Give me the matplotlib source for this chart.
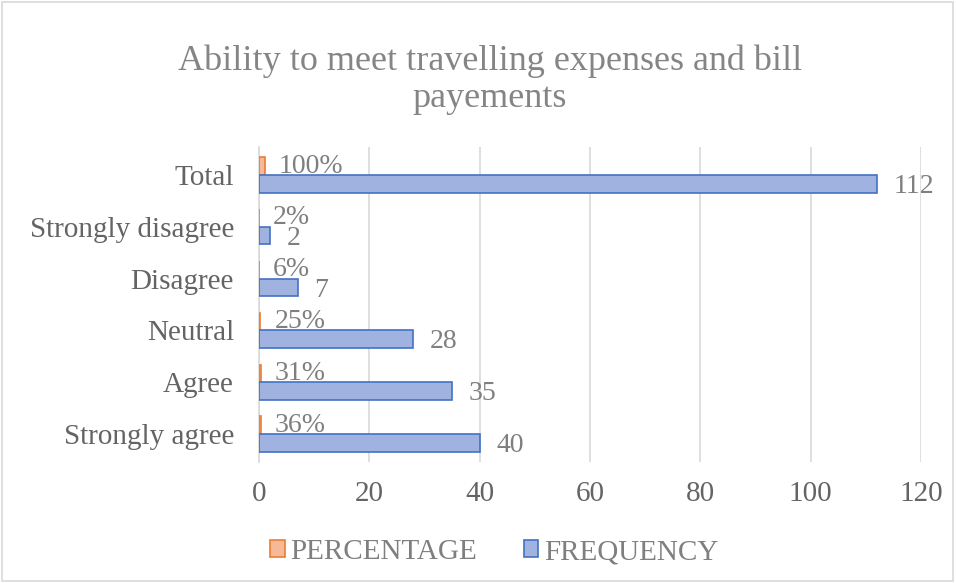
import numpy as np
import matplotlib.pyplot as plt
from matplotlib.patches import Rectangle

categories = ["Strongly agree", "Agree", "Neutral", "Disagree", "Strongly disagree", "Total"]
frequency = [40, 35, 28, 7, 2, 112]
percentage = [0.36, 0.31, 0.25, 0.06, 0.02, 1.00]
pct_labels = ["36%", "31%", "25%", "6%", "2%", "100%"]

plt.rcParams["font.family"] = ["Liberation Serif", "DejaVu Serif"]
grey = "#7f7f7f"
dark = "#646464"

fig = plt.figure(figsize=(9.56, 5.83), dpi=100)
ax = fig.add_axes([259 / 956, 1 - 462 / 583, (921 - 259) / 956, (462 - 147) / 583])

y = np.arange(len(categories))
h = 0.34
ax.barh(y + h / 2, percentage, height=h, color="#f6b897", edgecolor="#ed7d31", linewidth=1.2, zorder=3)
ax.barh(y - h / 2, frequency, height=h, color="#9fb2e0", edgecolor="#4472c4", linewidth=1.2, zorder=3)

for yi, p, lab in zip(y, percentage, pct_labels):
    ax.annotate(lab, (p, yi + h / 2), xytext=(10, 0), textcoords="offset points",
                ha="left", va="center", fontsize=20, color=grey, zorder=4)
for yi, f in zip(y, frequency):
    ax.annotate(str(f), (f, yi - h / 2), xytext=(12, -2), textcoords="offset points",
                ha="left", va="center", fontsize=20, color=grey, zorder=4)

ax.set_xlim(0, 120)
ax.set_ylim(-0.54, 5.54)
ax.set_xticks(range(0, 121, 20))
ax.set_yticks(y)
ax.set_yticklabels(categories)
ax.tick_params(axis="both", length=0, labelsize=21, labelcolor=dark)
ax.tick_params(axis="x", pad=14)
ax.tick_params(axis="y", pad=18)
ax.xaxis.grid(True, color="#d9d9d9", linewidth=1.2, zorder=0)
for s in ["top", "right", "bottom"]:
    ax.spines[s].set_visible(False)
ax.spines["left"].set_color("#d9d9d9")
ax.spines["left"].set_linewidth(1.2)
ax.spines["left"].set_zorder(2)

fig.text(0.5126, 1 - 80 / 583, "Ability to meet travelling expenses and bill\npayements",
         ha="center", va="center", fontsize=26, color="#858585", linespacing=1.15)

handles = [Rectangle((0, 0), 1, 1, facecolor="#f6b897", edgecolor="#ed7d31", linewidth=1.2),
           Rectangle((0, 0), 1, 1, facecolor="#9fb2e0", edgecolor="#4472c4", linewidth=1.2)]
leg = fig.legend(handles, ["PERCENTAGE", "FREQUENCY"], loc="center", bbox_to_anchor=(0.517, 1 - 552 / 583),
                 ncol=2, frameon=False, fontsize=21, handlelength=0.5, handleheight=0.5,
                 handletextpad=0.2, columnspacing=1.6)
for t in leg.get_texts():
    t.set_color(grey)

fig.patches.append(Rectangle((0.002, 0.004), 0.995, 0.992, transform=fig.transFigure,
                             fill=False, edgecolor="#d9d9d9", linewidth=1.2))

fig.savefig("out.png", dpi=100)
